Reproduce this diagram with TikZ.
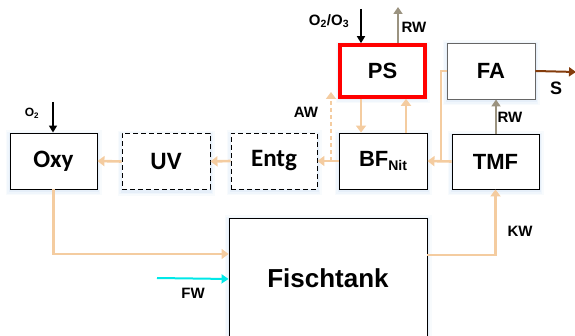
\documentclass[tikz,border=0pt]{standalone}
\usepackage{fontspec}
\setmainfont{Liberation Sans}
\newfontfamily\calib{Carlito}
\usetikzlibrary{arrows.meta,calc}
\definecolor{peach}{RGB}{244,204,160}
\definecolor{rwgray}{RGB}{155,147,128}
\definecolor{sbrown}{RGB}{132,60,12}
\definecolor{fwcyan}{RGB}{0,232,232}
\definecolor{glow}{RGB}{170,200,235}
\tikzset{
  glowbox/.style={
    preaction={draw=glow,solid,line width=9pt,opacity=0.08,transform canvas={yshift=-2pt}},
    preaction={draw=glow,solid,line width=6pt,opacity=0.10,transform canvas={yshift=-2pt}},
    preaction={draw=glow,solid,line width=3pt,opacity=0.14,transform canvas={yshift=-2pt}}},
  box/.style={glowbox,draw=black,line width=0.9pt,fill=white,minimum width=87pt,minimum height=56pt,inner sep=0pt,font=\bfseries\fontsize{22}{24}\selectfont},
  cbox/.style={box,font=\calib\bfseries\fontsize{25}{27}\selectfont},
  dbox/.style={cbox,dash pattern=on 5pt off 3pt},
  flow/.style={draw=peach,line width=2.6pt,-{Triangle[width=10pt,length=7pt]}},
  plain/.style={draw=peach,line width=2.6pt},
  blk/.style={draw=black,line width=1.6pt,-{Triangle[width=8pt,length=7pt]}},
  rw/.style={draw=rwgray,line width=2.4pt,-{Triangle[width=9pt,length=7pt]}},
  lbl/.style={font=\bfseries\fontsize{15}{17}\selectfont,inner sep=0pt},
}
\begin{document}
\begin{tikzpicture}[x=1pt,y=-1pt]
\useasboundingbox (0,0) rectangle (575,336);
\clip (0,0) rectangle (575,336);
% nodes
\node[cbox] (Oxy) at (53.5,161) {Oxy};
\node[dbox,minimum width=88pt] (UV) at (166,161.5) {UV};
\node[dbox,minimum width=86pt] (Entg) at (274,161) {Entg};
\node[box,minimum width=88pt] (BF) at (383,161) {BF\raisebox{-0.35ex}{\fontsize{14}{15}\selectfont Nit}};
\node[box,draw=red,line width=3.6pt,minimum width=85pt,minimum height=52pt] (PS) at (382.5,71) {PS};
\node[box,draw=black!60,minimum width=88pt] (FA) at (491,71) {FA};
\node[box,minimum height=55pt] (TMF) at (495.5,161.5) {TMF};
\node[box,minimum width=198pt,minimum height=122pt,font=\bfseries\fontsize{26}{28}\selectfont] (Tank) at (328,279) {\raisebox{2pt}{Fischtank}};
% coordinates
\coordinate (o2s) at (53,102);
\coordinate (o3s) at (361,9);
\coordinate (rwe) at (398,7);
\coordinate (se) at (576,72);
\coordinate (aws) at (331,161);
\coordinate (awe) at (331,92);
\coordinate (jn) at (441,161);
\coordinate (fws) at (157,278);
% flows
\draw[flow] (UV.west) -- (Oxy.east);
\draw[flow] (Entg.west) -- (UV.east);
\draw[flow] (BF.west) -- (Entg.east);
\draw[flow,dash pattern=on 4pt off 3pt] (aws) -- (awe);
\draw[flow] ([xshift=-21.5pt]PS.south) -- ([xshift=-22pt]BF.north);
\draw[flow] ([xshift=23pt]BF.north) -- ([xshift=23.5pt]PS.south);
\draw[flow] (TMF.west) -- (BF.east);
\draw[plain] (FA.west) -| (jn);
\draw[flow] (Oxy.south) |- ([yshift=25pt]Tank.west);
\draw[flow] ([yshift=24pt]Tank.east) -| (TMF.south);
\draw[draw=fwcyan,line width=2pt,-{Triangle[width=9pt,length=7pt]}] (fws) -- (Tank.west);
\draw[rw] ([xshift=0.5pt]TMF.north) -- ([xshift=5pt]FA.south);
\draw[rw] (PS.north -| rwe) -- (rwe);
\draw[blk] (o3s) -- (PS.north -| o3s);
\draw[blk] (o2s) -- (Oxy.north -| o2s);
\draw[draw=sbrown,line width=2pt,-{Triangle[width=9pt,length=7pt]}] (FA.east) -- (se);
% labels
\node[lbl,font=\bfseries\fontsize{12}{14}\selectfont] (lo2) at (32,113) {O\textsubscript{2}};
\node[lbl,font=\bfseries\fontsize{15}{17}\selectfont] (lo3) at (329,21) {O\textsubscript{2}/O\textsubscript{3}};
\node[lbl] (lrw1) at (414,27) {RW};
\node[lbl] (law) at (306,112) {AW};
\node[lbl] (lrw2) at (510,117) {RW};
\node[lbl,font=\bfseries\fontsize{18}{20}\selectfont] (ls) at (556,88) {S};
\node[lbl] (lkw) at (520,231) {KW};
\node[lbl] (lfw) at (193,293) {FW};
\end{tikzpicture}
\end{document}
